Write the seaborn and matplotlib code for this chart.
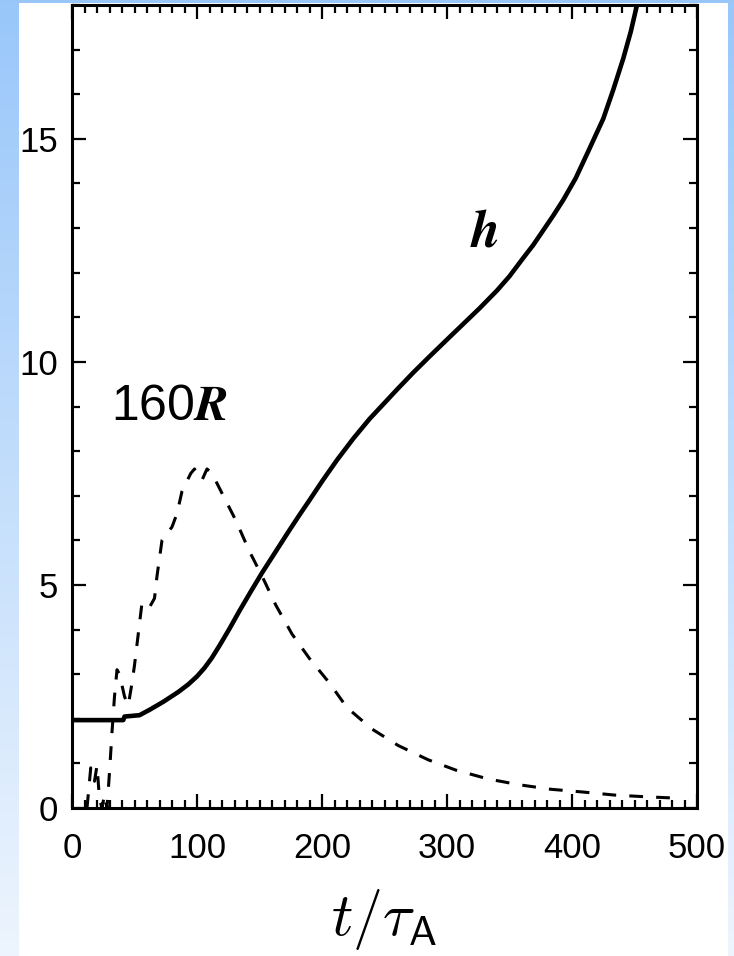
import numpy as np
import matplotlib
matplotlib.use("Agg")
import matplotlib.pyplot as plt
import seaborn as sns
from matplotlib.ticker import MultipleLocator

# ---- data ----
t_h = [0, 41, 42, 54, 62, 73, 85, 93, 100, 106, 112, 118, 126, 134, 143, 152,
       163, 174, 182, 190, 200, 212, 225, 238, 250, 260, 273, 286, 300, 313,
       326, 340, 350, 361, 369, 377, 385, 393, 403, 413, 425, 433, 441, 447,
       452]
h_vals = [1.97, 1.97, 2.05, 2.08, 2.2, 2.38, 2.6, 2.77, 2.95, 3.14, 3.37, 3.64,
          4.02, 4.42, 4.85, 5.27, 5.75, 6.23, 6.57, 6.9, 7.32, 7.8, 8.28, 8.72,
          9.08, 9.38, 9.76, 10.12, 10.5, 10.85, 11.2, 11.6, 11.92, 12.33,
          12.62, 12.95, 13.28, 13.63, 14.12, 14.72, 15.45, 16.1, 16.8, 17.4,
          18.0]

t_r = [12, 15, 18, 20, 22, 24, 26, 28, 30, 32, 34, 36, 38, 42, 45, 48, 50, 53,
       56, 62, 66, 68, 72, 80, 84, 88, 95, 98, 104, 108, 112, 121, 131, 142,
       152, 163, 176, 190, 206, 220, 240, 261, 285, 307, 333, 358, 383, 408,
       434, 460, 485]
r160_vals = [0.0, 0.9, 0.6, 0.95, 0.2, 0.0, 0.3, 0.0, 0.8, 1.7, 2.5, 3.1, 3.0,
             2.5, 2.3, 2.8, 3.2, 3.9, 4.6, 4.5, 4.7, 5.2, 6.0, 6.3, 6.6, 7.1,
             7.5, 7.6, 7.35, 7.6, 7.5, 7.0, 6.45, 5.75, 5.2, 4.55, 3.9, 3.35,
             2.8, 2.25, 1.77, 1.4, 1.08, 0.85, 0.65, 0.52, 0.42, 0.36, 0.29,
             0.25, 0.22]

x_ticks = [0, 100, 200, 300, 400, 500]
y_ticks = [0, 5, 10, 15]

W, H = 734, 956
sns.set_style("ticks")
plt.rcParams['font.family'] = ['Liberation Sans', 'DejaVu Sans']
plt.rcParams['mathtext.fontset'] = 'cm'
plt.rcParams['text.color'] = 'black'
plt.rcParams['axes.labelcolor'] = 'black'


def bold_italic(sym):
    """Use bold-italic math if this matplotlib supports it."""
    cand = r'$\mathbfit{%s}$' % sym
    try:
        f = plt.figure()
        f.text(0, 0, cand)
        f.canvas.draw()
        plt.close(f)
        return cand
    except Exception:
        plt.close('all')
        return r'$%s$' % sym


fig = plt.figure(figsize=(W / 100, H / 100), dpi=100)

# background: blue vertical gradient with a white panel
bg = fig.add_axes([0, 0, 1, 1], zorder=-10)
top = np.array([0.60, 0.78, 0.98])
bot = np.array([0.93, 0.96, 0.995])
g = np.linspace(0, 1, H)[:, None]
img = top[None, None, :] * (1 - g[..., None]) + bot[None, None, :] * g[..., None]
img = np.repeat(img, W, axis=1)
img[3:, 19:728, :] = 1.0
bg.imshow(img, aspect='auto', extent=[0, 1, 0, 1], origin='upper')
bg.set_axis_off()

ax = fig.add_axes([72 / W, (H - 808) / H, 625 / W, 803 / H])
ax.set_facecolor('white')

sns.lineplot(x=t_h, y=h_vals, ax=ax, color='black', lw=3.3, estimator=None,
             sort=False)
sns.lineplot(x=t_r, y=r160_vals, ax=ax, color='black', lw=2.2, estimator=None,
             sort=False, linestyle=(0, (4.5, 4.3)))

ax.set_xlim(0, 500)
ax.set_ylim(0, 18)
ax.set_xticks(x_ticks)
ax.set_yticks(y_ticks)
ax.xaxis.set_minor_locator(MultipleLocator(10))
ax.yaxis.set_minor_locator(MultipleLocator(1))
ax.tick_params(which='both', direction='in', top=True, right=True, width=1.6,
               colors='black')
ax.tick_params(which='major', length=10)
ax.tick_params(which='minor', length=5.5)
ax.tick_params(axis='x', which='major', labelsize=25, pad=17)
ax.tick_params(axis='y', which='major', labelsize=25, pad=10)
for s in ax.spines.values():
    s.set_visible(True)
    s.set_linewidth(2.2)
    s.set_color('black')

ax.set_xlabel(r'$t/\tau_{\mathsf{A}}$', fontsize=43, color='black')
ax.xaxis.label.set_va('baseline')
ax.xaxis.set_label_coords(0.5, -(935 - 808) / 803)
ax.set_ylabel('')

ax.text(31, 8.98, '160' + bold_italic('R'), fontsize=36, ha='left',
        va='center', color='black')
ax.text(330, 12.9, bold_italic('h'), fontsize=38, ha='center', va='center',
        color='black')

fig.savefig('out.png', dpi=100)
